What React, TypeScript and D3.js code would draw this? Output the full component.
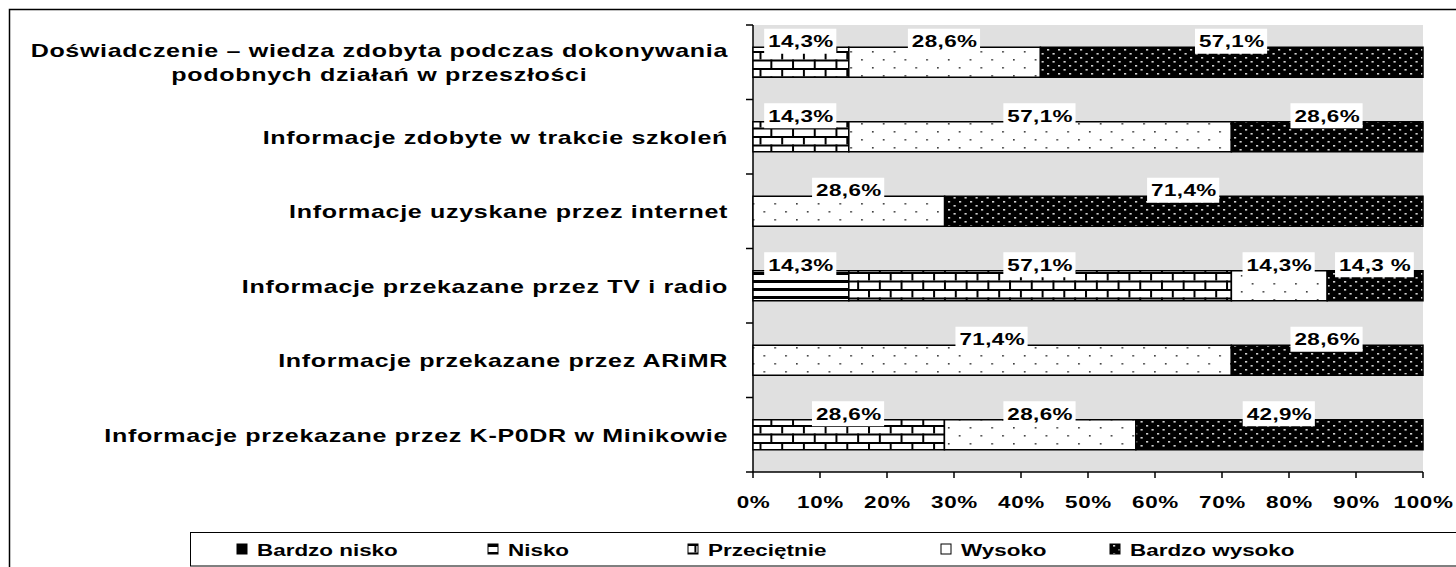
import React, { useEffect, useRef } from "react";
import * as d3 from "d3";

const categories = [
  "Doświadczenie – wiedza zdobyta podczas dokonywania|podobnych działań w przeszłości",
  "Informacje zdobyte w trakcie szkoleń",
  "Informacje uzyskane przez internet",
  "Informacje przekazane przez TV i radio",
  "Informacje przekazane przez ARiMR",
  "Informacje przekazane przez K-P0DR w Minikowie",
];
const seriesNames = ["Bardzo nisko", "Nisko", "Przeciętnie", "Wysoko", "Bardzo wysoko"];
const bardzoNisko = [0, 0, 0, 0, 0, 0];
const nisko = [0, 0, 0, 14.3, 0, 0];
const przecietnie = [14.3, 14.3, 0, 57.1, 0, 28.6];
const wysoko = [28.6, 57.1, 28.6, 14.3, 71.4, 28.6];
const bardzoWysoko = [57.1, 28.6, 71.4, 14.3, 28.6, 42.9];
const xTickValues = [0, 10, 20, 30, 40, 50, 60, 70, 80, 90, 100];
const labelOverrides: Record<string, string> = { "3-4": "14,3 %" };

const W = 1456;
const H = 567;
const PL = 753, PR = 1423, PT = 25, PB = 472;
const LABEL_RIGHT = 728;
const BAR_H = 30;
const FONT = "'Liberation Sans', Arial, sans-serif";
const SX = 1.32;
const legendX = [237, 488, 688, 941, 1110];

function stext(parent: any, x: number, y: number, str: string, size: number, anchor: string, spacing = 0) {
  const g = parent.append("g").attr("transform", `translate(${x},${y}) scale(${SX},1)`);
  const t = g.append("text").attr("x", 0).attr("y", 0).attr("text-anchor", anchor)
    .attr("font-family", FONT).attr("font-weight", "bold").attr("font-size", size)
    .attr("letter-spacing", spacing).attr("fill", "#000").text(str);
  return { g, t };
}

export default function App() {
  const ref = useRef<SVGSVGElement>(null);
  useEffect(() => {
    const svg = d3.select(ref.current);
    svg.selectAll("*").remove();
    const defs = svg.append("defs");

    // Pattern: Nisko (horizontal stripes)
    const pN = defs.append("pattern").attr("id", "p1").attr("patternUnits", "userSpaceOnUse")
      .attr("width", 8).attr("height", 8);
    pN.append("rect").attr("width", 8).attr("height", 8).attr("fill", "#fff");
    pN.append("rect").attr("y", 0).attr("width", 8).attr("height", 3).attr("fill", "#000");

    // Pattern: Przeciętnie (bricks)
    const bw = 21.7, bh = 8.5;
    const pP = defs.append("pattern").attr("id", "p2").attr("patternUnits", "userSpaceOnUse")
      .attr("width", bw).attr("height", bh * 2);
    pP.append("rect").attr("width", bw).attr("height", bh * 2).attr("fill", "#fff");
    pP.append("rect").attr("x", 0).attr("y", 0).attr("width", bw).attr("height", 2).attr("fill", "#000");
    pP.append("rect").attr("x", 0).attr("y", bh).attr("width", bw).attr("height", 2).attr("fill", "#000");
    pP.append("rect").attr("x", 0).attr("y", 0).attr("width", 2).attr("height", bh).attr("fill", "#000");
    pP.append("rect").attr("x", bw / 2).attr("y", bh).attr("width", 2).attr("height", bh).attr("fill", "#000");

    // Pattern: Wysoko (sparse dots)
    const pW = defs.append("pattern").attr("id", "p3").attr("patternUnits", "userSpaceOnUse")
      .attr("width", 21.7).attr("height", 16);
    pW.append("rect").attr("width", 21.7).attr("height", 16).attr("fill", "#fff");
    pW.append("rect").attr("x", 4).attr("y", 3).attr("width", 1.6).attr("height", 1.6).attr("fill", "#333");
    pW.append("rect").attr("x", 14.85).attr("y", 11).attr("width", 1.6).attr("height", 1.6).attr("fill", "#333");

    // Pattern: Bardzo wysoko (black with light dots)
    const pB = defs.append("pattern").attr("id", "p4").attr("patternUnits", "userSpaceOnUse")
      .attr("width", 11).attr("height", 8);
    pB.append("rect").attr("width", 11).attr("height", 8).attr("fill", "#000");
    pB.append("rect").attr("x", 2).attr("y", 1).attr("width", 2.2).attr("height", 1.6).attr("fill", "#d0d0d0");
    pB.append("rect").attr("x", 7.5).attr("y", 5).attr("width", 2.2).attr("height", 1.6).attr("fill", "#d0d0d0");

    const fills = ["#000", "url(#p1)", "url(#p2)", "url(#p3)", "url(#p4)"];

    // Outer frame
    svg.append("rect").attr("x", 9.5).attr("y", 9.5).attr("width", W + 20).attr("height", H + 20)
      .attr("fill", "#fff").attr("stroke", "#000").attr("stroke-width", 1.5);

    const x = d3.scaleLinear().domain([0, 1]).range([PL, PR]);
    const y = d3.scaleBand<string>().domain(categories.map((_, i) => String(i))).range([PT, PB]);
    const band = y.bandwidth();

    // Plot background
    svg.append("rect").attr("x", PL).attr("y", PT).attr("width", PR - PL).attr("height", PB - PT)
      .attr("fill", "#e0e0e0");

    // Axes
    const ax = svg.append("g").attr("stroke", "#000").attr("stroke-width", 1.5);
    ax.append("line").attr("x1", PL).attr("x2", PL).attr("y1", PT).attr("y2", PB);
    ax.append("line").attr("x1", PL).attr("x2", PR).attr("y1", PB).attr("y2", PB);
    for (let i = 0; i <= categories.length; i++) {
      const yy = PT + i * band;
      ax.append("line").attr("x1", PL - 7).attr("x2", PL).attr("y1", yy).attr("y2", yy);
    }
    xTickValues.forEach((t) => {
      ax.append("line").attr("x1", x(t / 100)).attr("x2", x(t / 100)).attr("y1", PB).attr("y2", PB + 6);
    });

    // Data rows
    const rows = categories.map((c, i) => ({
      key: String(i),
      "Bardzo nisko": bardzoNisko[i],
      Nisko: nisko[i],
      "Przeciętnie": przecietnie[i],
      Wysoko: wysoko[i],
      "Bardzo wysoko": bardzoWysoko[i],
    }));
    const stack = d3.stack<any>().keys(seriesNames).offset(d3.stackOffsetExpand);
    const stacked = stack(rows);

    const barsG = svg.append("g");
    stacked.forEach((s, si) => {
      s.forEach((d, ri) => {
        const v = (d.data as any)[seriesNames[si]];
        if (!v) return;
        barsG.append("rect")
          .attr("x", x(d[0])).attr("width", x(d[1]) - x(d[0]))
          .attr("y", (y(String(ri)) as number) + (band - BAR_H) / 2).attr("height", BAR_H)
          .attr("fill", fills[si]).attr("stroke", "#000").attr("stroke-width", 1.5);
      });
    });

    // Data labels
    const labG = svg.append("g");
    stacked.forEach((s, si) => {
      s.forEach((d, ri) => {
        const v = (d.data as any)[seriesNames[si]];
        if (!v) return;
        const txt = labelOverrides[`${ri}-${si}`] ?? v.toFixed(1).replace(".", ",") + "%";
        const cx = (x(d[0]) + x(d[1])) / 2;
        const cy = (y(String(ri)) as number) + band / 2 - 21;
        const { g, t } = stext(labG, cx, cy + 6, txt, 17, "middle", 0.3);
        const bb = (t.node() as SVGTextElement).getBBox();
        g.insert("rect", "text").attr("x", bb.x - 3).attr("y", -18.5).attr("width", bb.width + 5)
          .attr("height", 25).attr("fill", "#fff");
      });
    });

    // Category labels
    const catG = svg.append("g");
    categories.forEach((c, i) => {
      const cy = (y(String(i)) as number) + band / 2;
      const lines = c.split("|");
      if (lines.length === 1) {
        stext(catG, LABEL_RIGHT, cy + 7, lines[0], 19, "end", 0.5);
      } else {
        const { t } = stext(catG, LABEL_RIGHT, cy - 12 + 7, lines[0], 19, "end", 0.5);
        const w1 = (t.node() as SVGTextElement).getComputedTextLength() * SX;
        stext(catG, LABEL_RIGHT - w1 / 2, cy + 12 + 7, lines[1], 19, "middle", 0.5);
      }
    });

    // X tick labels
    const tG = svg.append("g");
    xTickValues.forEach((t) => {
      stext(tG, x(t / 100) + 0.5, PB + 36, `${t}%`, 17, "middle", 0.5);
    });

    // Legend
    const lg = svg.append("g");
    lg.append("rect").attr("x", 190.5).attr("y", 532.5).attr("width", 1300).attr("height", 33.5)
      .attr("fill", "#fff").attr("stroke", "#000").attr("stroke-width", 1);
    seriesNames.forEach((n, i) => {
      lg.append("rect").attr("x", legendX[i]).attr("y", 544).attr("width", 10).attr("height", 10)
        .attr("fill", fills[i]).attr("stroke", "#000").attr("stroke-width", 1);
      stext(lg, legendX[i] + 20, 556, n, 17, "start", 0);
    });
  }, []);

  return (
    <svg ref={ref} width={W} height={H}
      style={{ position: "absolute", left: 0, top: 0, display: "block", background: "#fff" }} />
  );
}
